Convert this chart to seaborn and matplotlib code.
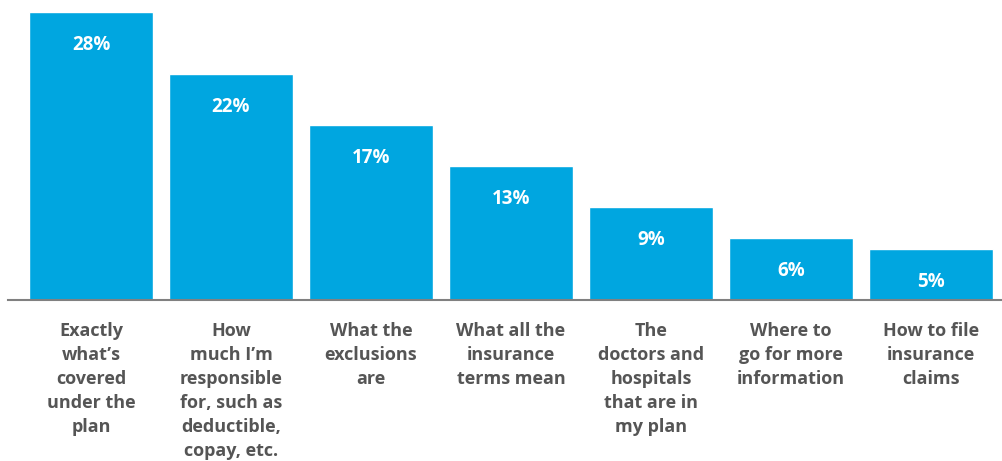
import pandas as pd
import matplotlib.pyplot as plt
import seaborn as sns

categories = [
    "Exactly\nwhat\u2019s\ncovered\nunder the\nplan",
    "How\nmuch I\u2019m\nresponsible\nfor, such as\ndeductible,\ncopay, etc.",
    "What the\nexclusions\nare",
    "What all the\ninsurance\nterms mean",
    "The\ndoctors and\nhospitals\nthat are in\nmy plan",
    "Where to\ngo for more\ninformation",
    "How to file\ninsurance\nclaims",
]
values = [28, 22, 17, 13, 9, 6, 5]
value_labels = ["28%", "22%", "17%", "13%", "9%", "6%", "5%"]

df = pd.DataFrame({"category": categories, "value": values})

sns.set_style("white")
plt.rcParams["font.family"] = ["Open Sans", "DejaVu Sans"]

fig = plt.figure(figsize=(10.03, 4.61), dpi=100)
ax = fig.add_axes([8 / 1003, 161 / 461, 995 / 1003, 288 / 461])

sns.barplot(data=df, x="category", y="value", color="#00A6E0",
            saturation=1, width=0.886, ax=ax)

for i, (v, lab) in enumerate(zip(values, value_labels)):
    ax.annotate(lab, (i, v), xytext=(0, -33), textcoords="offset pixels",
                ha="center", va="center", color="white",
                fontsize=13.5, fontweight="bold")

ax.set_xlim(-0.593, 6.514)
ax.set_ylim(0, 28)
ax.set_xlabel("")
ax.set_ylabel("")
ax.set_yticks([])
for s in ["top", "right", "left"]:
    ax.spines[s].set_visible(False)
ax.spines["bottom"].set_color("#808080")
ax.spines["bottom"].set_linewidth(1.5)
ax.tick_params(axis="x", length=0, pad=16, labelsize=13,
               labelcolor="#555555")
for t in ax.get_xticklabels():
    t.set_fontweight("bold")
    t.set_linespacing(1.42)
    t.set_verticalalignment("top")

fig.savefig("out.png", dpi=100)
